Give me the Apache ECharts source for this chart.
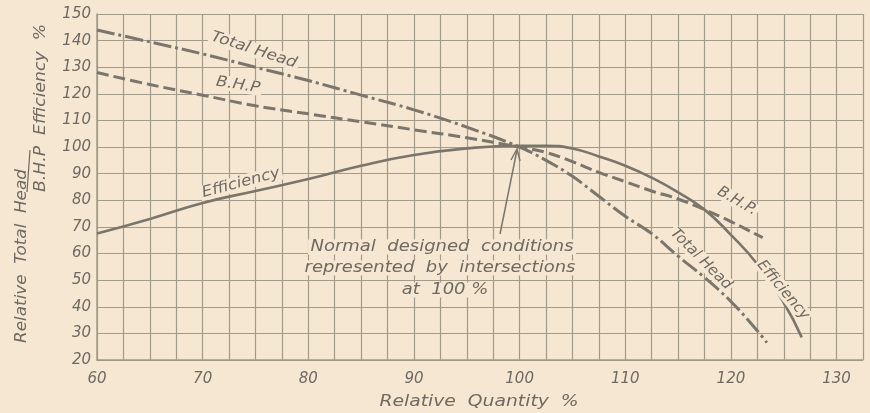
<!DOCTYPE html>
<html>
<head>
<meta charset="utf-8">
<script src="https://cdn.jsdelivr.net/npm/echarts@6/dist/echarts.min.js"></script>
<style>
html,body{margin:0;padding:0;background:#f6e7d2;}
#chart{width:870px;height:413px;}
</style>
</head>
<body>
<div id="chart"></div>
<script>
// Relative quantity (%) sample positions for each curve
const headX = [60, 65, 70, 75, 80, 85, 90, 95, 100, 102.5, 105, 107.5, 110, 112.5, 115, 117.5, 120, 122.5, 123.4];
const headY = [144, 139.5, 135, 130, 125, 119.5, 114, 107.5, 100, 95, 89, 81.5, 74, 67.5, 59, 51, 42, 31, 26.5];

const bhpX = [60, 65, 70, 75, 80, 85, 90, 95, 100, 102.5, 105, 107.5, 110, 112.5, 115, 117.5, 120, 122.5, 123];
const bhpY = [128, 123.5, 119.5, 115.5, 112.5, 109.5, 106.5, 103.5, 100, 98, 94.5, 90.5, 87, 83.5, 80.5, 76.5, 72, 67, 66];

const effX = [60, 65, 70, 75, 80, 85, 90, 95, 100, 102.5, 105, 107.5, 110, 112.5, 115, 117.5, 120, 122.5, 125, 126.7];
const effY = [67.5, 73, 79, 83.5, 88, 93, 97, 99.5, 100.5, 100.5, 99.5, 96.5, 93, 88.5, 83, 76.5, 67, 56, 41.5, 28.5];

const xTicks = [60, 70, 80, 90, 100, 110, 120, 130];
const yTicks = [20, 30, 40, 50, 60, 70, 80, 90, 100, 110, 120, 130, 140, 150];

const pairs = (xs, ys) => xs.map((x, i) => [x, ys[i]]);

const ink = '#7b766b';
const gridCol = '#a29b89';
const txt = '#6f6a61';
const bg = '#f6e7d2';
const font = 'DejaVu Sans';

const chart = echarts.init(document.getElementById('chart'));

function label(text, x, y, rotDeg, size, sx) {
  return {
    type: 'text', x: x, y: y, rotation: rotDeg * Math.PI / 180, z: 20,
    scaleX: sx || 1,
    style: {
      text: text, fill: txt, font: 'italic ' + (size || 15) + 'px "' + font + '"',
      align: 'center', verticalAlign: 'middle',
      backgroundColor: bg, padding: [0, 2]
    }
  };
}

const option = {
  backgroundColor: bg,
  animation: false,
  grid: { left: 97, right: 7, top: 14, bottom: 53, show: false },
  xAxis: {
    type: 'value', min: 60, max: 132.5, interval: 2.5,
    axisLine: { show: true, lineStyle: { color: gridCol, width: 1.5 } },
    axisTick: { show: false },
    splitLine: { show: true, lineStyle: { color: gridCol, width: 1.2 } },
    axisLabel: {
      color: txt, fontFamily: font, fontStyle: 'italic', fontSize: 15, margin: 12,
      showMaxLabel: true,
      formatter: v => (xTicks.indexOf(Math.round(v * 10) / 10) >= 0 ? String(v) : '')
    }
  },
  yAxis: {
    type: 'value', min: 20, max: 150, interval: 10,
    axisLine: { show: true, lineStyle: { color: gridCol, width: 1.5 } },
    axisTick: { show: false },
    splitLine: { show: true, lineStyle: { color: gridCol, width: 1.2 } },
    axisLabel: {
      color: txt, fontFamily: font, fontStyle: 'italic', fontSize: 15, margin: 6,
      formatter: v => (yTicks.indexOf(v) >= 0 ? String(v) : '')
    }
  },
  series: [
    {
      name: 'Total Head', type: 'line', smooth: 0.4, symbol: 'none', z: 5,
      data: pairs(headX, headY),
      lineStyle: { color: ink, width: 3, type: [18, 4, 3, 4] }
    },
    {
      name: 'B.H.P', type: 'line', smooth: 0.4, symbol: 'none', z: 5,
      data: pairs(bhpX, bhpY),
      lineStyle: { color: ink, width: 3, type: [12, 5] }
    },
    {
      name: 'Efficiency', type: 'line', smooth: 0.5, symbol: 'none', z: 5,
      data: pairs(effX, effY),
      lineStyle: { color: ink, width: 2.6, type: 'solid' }
    }
  ],
  graphic: [
    // y-axis title (rotated)
    {
      type: 'text', x: 22, y: 256, rotation: Math.PI / 2, z: 20, scaleX: 1.12,
      style: { text: 'Relative  Total  Head', fill: txt, font: 'italic 15px "' + font + '"', align: 'center', verticalAlign: 'middle' }
    },
    {
      type: 'text', x: 41, y: 108, rotation: Math.PI / 2, z: 20, scaleX: 1.15,
      style: { text: 'B.H.P  Efficiency  %', fill: txt, font: 'italic 15px "' + font + '"', align: 'center', verticalAlign: 'middle' }
    },
    {
      type: 'line', z: 20,
      shape: { x1: 30, y1: 150, x2: 27, y2: 192 },
      style: { stroke: txt, lineWidth: 1.2 }
    },
    // x-axis title
    {
      type: 'text', x: 479, y: 402, z: 20, scaleX: 1.25,
      style: { text: 'Relative  Quantity  %', fill: txt, font: 'italic 15px "' + font + '"', align: 'center', verticalAlign: 'middle' }
    },
    // curve labels
    label('Total Head', 254, 50, -18, 15, 1.12),
    label('B.H.P', 238, 85, -9, 15, 1.1),
    label('Efficiency', 241, 183, 15, 15, 1.1),
    label('B.H.P.', 737, 201, -30),
    label('Total Head', 701, 259, -45),
    label('Efficiency', 783, 290, -50),
    // note
    label('Normal  designed  conditions', 442, 247, 0, 15, 1.2),
    label('represented  by  intersections', 440, 268, 0, 15, 1.2),
    label('at  100 %', 445, 290, 0, 15, 1.2),
    // arrow
    {
      type: 'line', z: 21,
      shape: { x1: 500, y1: 234, x2: 517, y2: 150 },
      style: { stroke: ink, lineWidth: 1.5 }
    },
    {
      type: 'polyline', z: 21,
      shape: { points: [[511, 160], [517, 149], [520, 161]] },
      style: { stroke: ink, lineWidth: 1.5, fill: null }
    }
  ]
};
chart.setOption(option);
</script>
</body>
</html>
